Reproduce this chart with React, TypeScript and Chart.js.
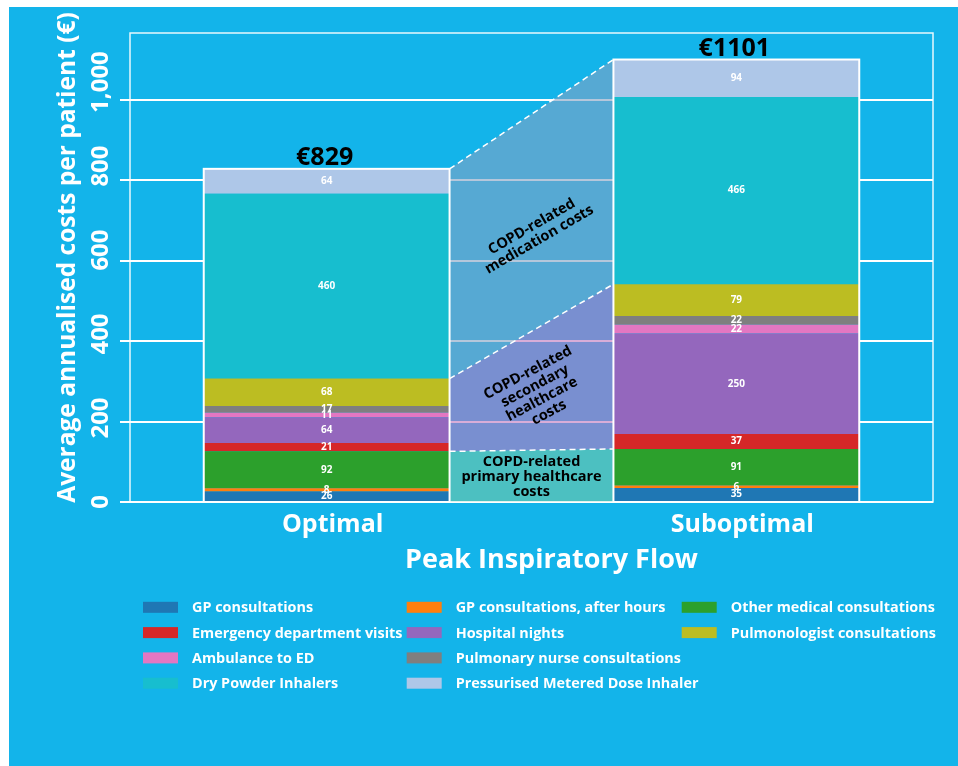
import { useEffect, useRef } from "react";
import { Chart, registerables } from "chart.js";

Chart.register(...registerables);

// ---------- data ----------
const categories = ["Optimal", "Suboptimal"];
const totalLabels = ["€829", "€1101"];

const gpConsultations = [26, 35];
const gpAfterHours = [8, 6];
const otherMedical = [92, 91];
const emergencyVisits = [21, 37];
const hospitalNights = [64, 250];
const ambulance = [11, 22];
const pulmonaryNurse = [17, 22];
const pulmonologist = [68, 79];
const dryPowderInhalers = [460, 466];
const pmdi = [64, 94];
const totals = [829, 1101];

const yTickValues = [0, 200, 400, 600, 800, 1000];
const yTickLabels = ["0", "200", "400", "600", "800", "1,000"];

const seriesNames = [
  "GP consultations",
  "GP consultations, after hours",
  "Other medical consultations",
  "Emergency department visits",
  "Hospital nights",
  "Ambulance to ED",
  "Pulmonary nurse consultations",
  "Pulmonologist consultations",
  "Dry Powder Inhalers",
  "Pressurised Metered Dose Inhaler",
];
const seriesValues = [
  gpConsultations,
  gpAfterHours,
  otherMedical,
  emergencyVisits,
  hospitalNights,
  ambulance,
  pulmonaryNurse,
  pulmonologist,
  dryPowderInhalers,
  pmdi,
];
const seriesColors = [
  "#1f77b4",
  "#ff7f0e",
  "#2ca02c",
  "#d62728",
  "#9467bd",
  "#e377c2",
  "#7f7f7f",
  "#bcbd22",
  "#17becf",
  "#aec7e8",
];

// cost groups (indexes into series)
const primaryGroup = [0, 1, 2];
const secondaryGroup = [3, 4, 5, 6, 7];
const medicationGroup = [8, 9];
const groupLabels = [
  ["COPD-related", "primary healthcare", "costs"],
  ["COPD-related", "secondary", "healthcare", "costs"],
  ["COPD-related", "medication costs"],
];

// legend columns (indexes into series)
const legendColumns = [
  [0, 3, 5, 8],
  [1, 4, 6, 9],
  [2, 7],
];

// ---------- styles ----------
const FONT = "'Open Sans', Lato, 'DejaVu Sans', sans-serif";
const BG = "#13b4ea";
const regionFills = [
  "rgba(112, 200, 168, 0.62)",
  "rgba(190, 118, 190, 0.6)",
  "rgba(131, 162, 195, 0.6)",
];
const regionLabelPos = [
  { x: 0.5, y: 62, rot: 0 },
  { x: 0.517, y: 272, rot: -28 },
  { x: 0.51, y: 669, rot: -30 },
];
const yLabelShift = 1.045;

function sumGroup(group: number[], i: number) {
  return group.reduce((s, k) => s + seriesValues[k][i], 0);
}

const overlayPlugin = {
  id: "overlay",
  beforeDatasetsDraw(chart: any) {
    const { ctx } = chart;
    const y = chart.scales.y;
    const bars = chart.getDatasetMeta(0).data;
    const xl = bars[0].x + bars[0].width / 2;
    const xr = bars[1].x - bars[1].width / 2;
    const groups = [primaryGroup, secondaryGroup, medicationGroup];
    let lower = [0, 0];
    const uppers: number[][] = [];
    groups.forEach((g, gi) => {
      const upper = [lower[0] + sumGroup(g, 0), lower[1] + sumGroup(g, 1)];
      if (gi === groups.length - 1) {
        upper[0] = totals[0];
        upper[1] = totals[1];
      }
      ctx.save();
      ctx.fillStyle = regionFills[gi];
      ctx.beginPath();
      ctx.moveTo(xl, y.getPixelForValue(lower[0]));
      ctx.lineTo(xr, y.getPixelForValue(lower[1]));
      ctx.lineTo(xr, y.getPixelForValue(upper[1]));
      ctx.lineTo(xl, y.getPixelForValue(upper[0]));
      ctx.closePath();
      ctx.fill();
      ctx.restore();
      uppers.push(upper);
      lower = upper;
    });
    ctx.save();
    ctx.strokeStyle = "#ffffff";
    ctx.lineWidth = 1.5;
    ctx.setLineDash([6, 4]);
    uppers.forEach((u) => {
      ctx.beginPath();
      ctx.moveTo(xl, y.getPixelForValue(u[0]));
      ctx.lineTo(xr, y.getPixelForValue(u[1]));
      ctx.stroke();
    });
    ctx.restore();

    // group labels
    const x = chart.scales.x;
    ctx.save();
    ctx.fillStyle = "#000000";
    ctx.font = `bold 14.5px ${FONT}`;
    ctx.textAlign = "center";
    ctx.textBaseline = "middle";
    groupLabels.forEach((lines, gi) => {
      const p = regionLabelPos[gi];
      ctx.save();
      ctx.translate(x.getPixelForValue(p.x), y.getPixelForValue(p.y));
      ctx.rotate((p.rot * Math.PI) / 180);
      const lh = 15;
      lines.forEach((t, li) => {
        ctx.fillText(t, 0, (li - (lines.length - 1) / 2) * lh);
      });
      ctx.restore();
    });
    ctx.restore();
  },
  afterDatasetsDraw(chart: any) {
    const { ctx } = chart;
    const y = chart.scales.y;
    // segment labels
    ctx.save();
    ctx.fillStyle = "#ffffff";
    ctx.font = `bold 10px ${FONT}`;
    ctx.textAlign = "center";
    ctx.textBaseline = "middle";
    chart.data.datasets.forEach((ds: any, di: number) => {
      const meta = chart.getDatasetMeta(di);
      meta.data.forEach((bar: any, i: number) => {
        ctx.fillText(String(ds.data[i].y), bar.x, (bar.y + bar.base) / 2);
      });
    });
    ctx.restore();
    // outlines + totals
    const bars = chart.getDatasetMeta(0).data;
    ctx.save();
    bars.forEach((bar: any, i: number) => {
      const left = bar.x - bar.width / 2;
      const top = y.getPixelForValue(totals[i]);
      const bottom = y.getPixelForValue(0);
      ctx.strokeStyle = "#ffffff";
      ctx.lineWidth = 2;
      ctx.strokeRect(left, top, bar.width, bottom - top);
      ctx.fillStyle = "#000000";
      ctx.font = `bold 25px ${FONT}`;
      ctx.textAlign = "center";
      ctx.textBaseline = "alphabetic";
      ctx.fillText(totalLabels[i], bar.x - 2, top - 4);
    });
    ctx.restore();
  },
  afterDraw(chart: any) {
    const { ctx, chartArea } = chart;
    const y = chart.scales.y;
    const x = chart.scales.x;
    ctx.save();
    // frame
    ctx.strokeStyle = "rgba(255,255,255,0.9)";
    ctx.lineWidth = 1.5;
    ctx.strokeRect(chartArea.left, chartArea.top, chartArea.right - chartArea.left, chartArea.bottom - chartArea.top);

    ctx.fillStyle = "#ffffff";
    // y tick labels
    ctx.font = `bold 24px ${FONT}`;
    ctx.textAlign = "center";
    ctx.textBaseline = "middle";
    yTickValues.forEach((v, i) => {
      ctx.save();
      ctx.translate(chartArea.left - 29, y.getPixelForValue(v * yLabelShift));
      ctx.rotate(-Math.PI / 2);
      ctx.fillText(yTickLabels[i], 0, 0);
      ctx.restore();
    });
    // y title
    ctx.save();
    ctx.font = `bold 24.5px ${FONT}`;
    ctx.translate(chartArea.left - 62, (chartArea.top + chartArea.bottom) / 2 - 10);
    ctx.rotate(-Math.PI / 2);
    ctx.fillText("Average annualised costs per patient (€)", 0, 0);
    ctx.restore();
    // category labels
    ctx.font = `bold 25px ${FONT}`;
    ctx.textBaseline = "alphabetic";
    categories.forEach((c, i) => {
      ctx.fillText(c, x.getPixelForValue(i) + 6, chartArea.bottom + 30);
    });
    // x title
    ctx.font = `bold 27px ${FONT}`;
    ctx.fillText("Peak Inspiratory Flow", (chartArea.left + chartArea.right) / 2 + 20, chartArea.bottom + 66);

    // legend
    const colX = [134, 397.7, 672.7];
    const rowY0 = 600.3;
    const rowH = 25.3;
    ctx.font = `bold 14.4px ${FONT}`;
    ctx.textAlign = "left";
    ctx.textBaseline = "middle";
    legendColumns.forEach((col, ci) => {
      col.forEach((k, ri) => {
        const cy = rowY0 + ri * rowH;
        ctx.fillStyle = seriesColors[k];
        ctx.fillRect(colX[ci], cy - 5.5, 35, 11);
        ctx.fillStyle = "#ffffff";
        ctx.fillText(seriesNames[k], colX[ci] + 49, cy + 1);
      });
    });
    ctx.restore();
  },
};

export default function App() {
  const canvasRef = useRef<HTMLCanvasElement | null>(null);

  useEffect(() => {
    if (!canvasRef.current) return;
    const chart = new Chart(canvasRef.current, {
      type: "bar",
      data: {
        datasets: seriesNames.map((name, k) => ({
          label: name,
          data: seriesValues[k].map((v, i) => ({ x: i, y: v })),
          backgroundColor: seriesColors[k],
          borderWidth: 0,
          barPercentage: 1,
          categoryPercentage: 0.6,
        })),
      },
      options: {
        animation: false,
        responsive: false,
        maintainAspectRatio: false,
        layout: { padding: { left: 111, right: 25, top: 26, bottom: 264 } },
        plugins: {
          legend: { display: false },
          tooltip: { enabled: false },
          title: { display: false },
        },
        scales: {
          x: {
            type: "linear",
            min: -0.48,
            max: 1.48,
            stacked: true,
            offset: false,
            display: false,
            ticks: { stepSize: 1, includeBounds: false },
            grid: { display: false, offset: false },
          },
          y: {
            stacked: true,
            min: 0,
            max: 1167,
            afterFit: (s: any) => {
              s.width = 10;
            },
            afterBuildTicks: (s: any) => {
              s.ticks = yTickValues.map((v) => ({ value: v }));
            },
            ticks: { display: false },
            grid: {
              color: "#ffffff",
              lineWidth: 2,
              drawTicks: true,
              tickLength: 10,
            },
            border: { display: false },
          },
        },
      },
      plugins: [overlayPlugin],
    });
    return () => chart.destroy();
  }, []);

  return (
    <div
      style={{
        position: "fixed",
        left: 9,
        top: 7,
        width: 949,
        height: 759,
        background: BG,
      }}
    >
      <canvas ref={canvasRef} width={949} height={759} style={{ width: 949, height: 759 }} />
    </div>
  );
}
